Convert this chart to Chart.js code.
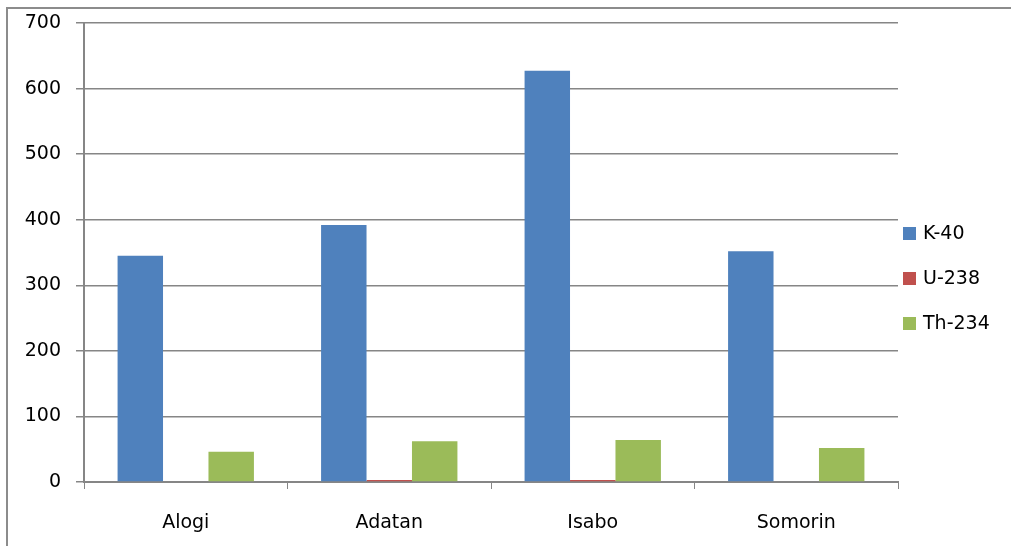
<!DOCTYPE html>
<html>
<head>
<meta charset="utf-8">
<script src="https://cdn.jsdelivr.net/npm/chart.js@4"></script>
<style>
  html, body { margin: 0; padding: 0; background: #fff; overflow: hidden; }
  #wrap { position: absolute; left: 0; top: 0; width: 1011px; height: 546px; }
</style>
</head>
<body>
<div id="wrap"><canvas id="chart" width="1011" height="546"></canvas></div>
<script>
// sites and measured activity values
const sites = ['Alogi', 'Adatan', 'Isabo', 'Somorin'];
const k40 = [345, 392, 627, 352];
const u238 = [1, 3, 3, 1];
const th234 = [46, 62, 64, 52];
const seriesNames = ['K-40', 'U-238', 'Th-234'];
const seriesColors = ['#4f81bd', '#c0504d', '#9bbb59'];

const fontFamily = '"DejaVu Sans", sans-serif';

// outer frame, only left and top edges are visible in the picture
const frame = {
    id: 'frame',
    beforeDraw(chart) {
        const ctx = chart.ctx;
        ctx.save();
        ctx.strokeStyle = '#8c8c8c';
        ctx.lineWidth = 2;
        ctx.beginPath();
        ctx.moveTo(7, chart.height);
        ctx.lineTo(7, 8);
        ctx.lineTo(chart.width + 5, 8);
        ctx.stroke();
        ctx.restore();
    }
};

// legend drawn on the right, like the spreadsheet one
const sideLegend = {
    id: 'sideLegend',
    afterDraw(chart) {
        const ctx = chart.ctx;
        ctx.save();
        ctx.font = '19px ' + fontFamily;
        ctx.textBaseline = 'middle';
        chart.data.datasets.forEach((ds, i) => {
            const y = 234 + i * 45;
            ctx.fillStyle = ds.backgroundColor;
            ctx.fillRect(903, y - 7, 13, 13);
            ctx.fillStyle = '#000';
            ctx.fillText(ds.label, 923, y);
        });
        ctx.restore();
    }
};

const datasets = [k40, u238, th234].map((vals, i) => ({
    label: seriesNames[i],
    data: vals,
    backgroundColor: seriesColors[i],
    barPercentage: 1,
    categoryPercentage: 0.67
}));

new Chart(document.getElementById('chart'), {
    type: 'bar',
    data: { labels: sites, datasets: datasets },
    options: {
        responsive: false,
        animation: false,
        layout: { padding: { top: 23, right: 113, bottom: 0, left: 0 } },
        plugins: {
            legend: { display: false },
            tooltip: { enabled: false }
        },
        scales: {
            x: {
                afterFit: s => { s.height = 64; },
                grid: { offset: true, drawOnChartArea: false, drawTicks: true, tickLength: 7, color: '#868686' },
                border: { color: '#868686', width: 2 },
                ticks: { color: '#000', font: { family: fontFamily, size: 19 }, padding: 23 }
            },
            y: {
                min: 0,
                max: 700,
                afterFit: s => { s.width = 84; s.paddingTop = 0; s.paddingBottom = 0; },
                grid: { color: '#868686', lineWidth: 1.5, tickLength: 8 },
                border: { color: '#868686', width: 2 },
                ticks: { stepSize: 100, color: '#000', font: { family: fontFamily, size: 19 }, padding: 15 }
            }
        }
    },
    plugins: [frame, sideLegend]
});
</script>
</body>
</html>
